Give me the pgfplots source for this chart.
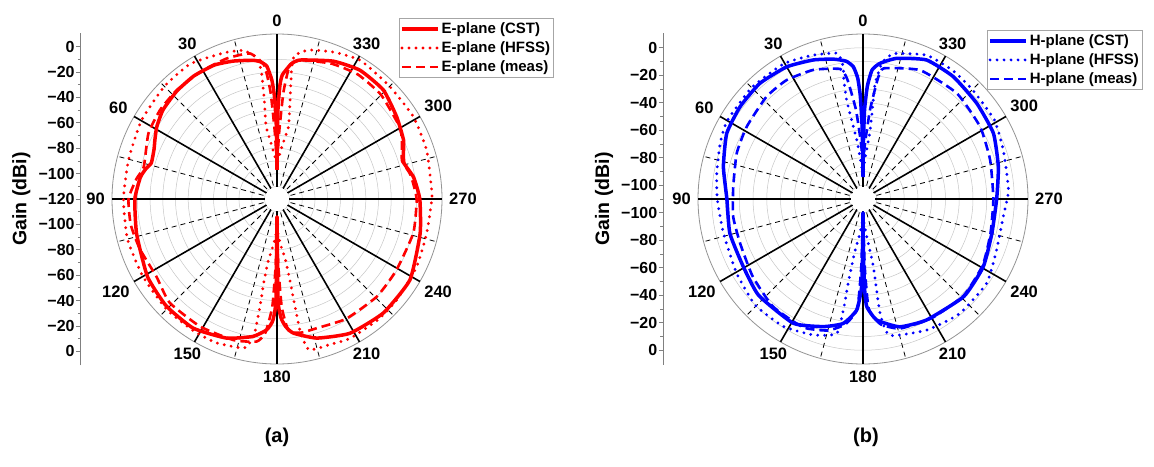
\documentclass[border=0pt]{standalone}
\usepackage{pgfplots}
\pgfplotsset{compat=1.18}
\usepackage{pgfplotstable}
\usepackage{fontspec}
\setmainfont{Liberation Sans}

% ---------- E-plane data (angle from top, counter-clockwise; gain dBi)
\pgfplotstableread{
a g
0 -97
0.6 -60
1.5 -38
2.5 -26
4.4 -15
7 -11
10 -9
17.6 -6
25 -3.5
34 -3
43 -4
52 -6
59 -9.5
64 -13
68 -15.5
74 -17
77 -14
81 -11
90 -8
104 -6
121 -1
134 1.3
147 1.3
160 -3.4
170 -10
175.5 -16.6
178 -24
179.4 -40
180 -106
180.6 -40
182 -26
184 -19
187 -13.5
196 -6
208.5 0.4
223 2.8
238.7 2.6
256.5 -4
270 -7.5
279 -11
285.7 -16
290 -14
295 -10
304.5 -5.6
315.7 0
327.2 0.7
337.8 -2.7
350.6 -9
354 -13
357.5 -22
358.5 -30
359.4 -50
360 -97
}\ecst

\pgfplotstableread{
a g
0 -92
3 -86
5.5 -78
8.5 -62
7.3 -41
7 -20
8 -8
12.7 0
20 2.5
32.7 6.5
45 5.5
60 3.4
75 1
90 1
105 2
120 2
135 3
148 3
157 3
165 1
168.5 -1
170.5 -13
171 -35
171 -55
172 -71
176 -85
180 -95
184 -85
188 -71
189 -55
189.5 -35
190 -13
192 1.5
200 2
207.6 4
220 4
230 3.4
244 2.3
257 1
270 2
274.6 2
288 4
301 5.5
315 5.5
329 7.5
339 4
348 0
353 -6
353.6 -16
352.5 -41
351 -62
354.5 -78
357 -86
360 -92
}\ehfss

\pgfplotstableread{
a g
0 -92
2 -65
3.5 -35
5.5 -14
10.5 -3.4
19.7 -2.4
31 -3
42.6 -3.4
52.7 -4.2
63 -6.3
76.4 -12
82 -8
90 -3
100 -3
110 -5
122.8 -7
134 -2.4
149 -2.7
163 -3.7
171.9 -6.6
175 -14
177.5 -35
179 -70
180 -100
181 -70
182.5 -35
185 -16
190 -13
197 -13.5
210 -11
225.6 -10
239 -10.5
256 -9.3
270 -10
280 -13
287 -17
293 -13
300 -8
315 -4
327 -3
338 -5
350 -9
354.5 -14
356.5 -35
358 -65
360 -92
}\emeas

% ---------- H-plane data
\pgfplotstableread{
a g
0 -94
0.6 -60
1.5 -35
2.5 -22
4.2 -13.5
7 -9
12 -6
19.7 -2.6
30 1
41.7 2.7
53 1.8
64.3 0
77 -5.8
90 -11
104.5 -10
119.5 -10
132.7 -6.7
150.7 -6.4
162.7 -12.8
171 -18.4
176.7 -29
179 -45
179.6 -70
180 -100
180.4 -70
181 -45
182 -31.7
186.4 -21.5
196 -13.3
207.8 -10.6
226 -8
240.6 -9.6
255 -13
270 -12.8
283.4 -8.8
296.7 -3.8
310 -1.9
323.6 0.6
335.4 1.2
346.5 -4.8
352.9 -10.6
356 -16
357.8 -28
359 -45
359.6 -70
360 -94
}\hcst

\pgfplotstableread{
a g
0 -92
3 -84
6 -67
9.4 -37
9 -20
8.5 -12.8
10 -2.4
20 1
30.4 4
45 4.5
60 4
68.7 1.5
80 -2
90 -4
103.8 -5.5
120.5 -3.4
134.6 0
148 -0.7
160 -4.8
169 -10.4
170 -30
170 -47.7
171 -70
175 -85
180 -95
185 -85
188.7 -60
188.5 -26
191 -9
206 -4
220 -1
235.7 -1.2
249 -6
263 -7.2
273.5 -4
289 -2
301 1.5
315 2.5
325 4
336 4.4
348 -1.9
352 -10
354 -25.6
354 -45
354.2 -62
357 -80
360 -92
}\hhfss

\pgfplotstableread{
a g
0 -85
2 -70
4.5 -45
7.5 -22
10 -14
21 -9.4
32.7 -7.2
43.3 -7.7
58 -10.4
70 -12.3
84.6 -15.2
97.8 -14.7
110 -15
125 -12
140 -8
155 -7
165 -11
172 -18
177 -30
178.5 -60
180 -95
181.5 -60
183 -30
188 -18
196 -12
210 -10
226 -8.5
241 -10.5
255 -14
270 -15.2
287 -13.3
301.7 -9.9
318.4 -7.2
336 -7.5
351 -13.8
353 -22
355.5 -45
358 -70
360 -85
}\hmeas

\pgfplotsset{
  polarbase/.style={
    anchor=origin, clip=false,
    axis x line=none, axis y line=left,
    y axis line style={-, gray, line width=0.8pt},
    tick align=outside,
    major tick length=4pt, minor tick length=2.5pt,
    tick style={gray, line width=0.8pt},
    yticklabel style={font=\bfseries\fontsize{16}{16}\selectfont, inner sep=1.5pt},
    ylabel={Gain (dBi)},
    ylabel shift=3pt,
    ylabel style={font=\bfseries\fontsize{19.5}{19.5}\selectfont},
    legend cell align=left,
    legend image code/.code={\draw[#1] (0pt,0pt) -- (36pt,0pt);},
  },
  legbox/.style={
    anchor=north west, draw=gray!70, line width=0.6pt, fill=white,
    inner xsep=1pt, inner ysep=2.5pt, row sep=2.6pt,
    font=\bfseries\fontsize{15}{17}\selectfont,
  },
  sm/.style={smooth, tension=0.3},
}

\begin{document}
\begin{tikzpicture}[x=1pt,y=1pt]
\path[use as bounding box] (0,0) rectangle (1154,-466);

% ---------- grids
\foreach \cx/\step in {277/12.69, 863/13.75}{
\begin{scope}[shift={(\cx pt,-199pt)}]
  \foreach \r in {1,...,11}
    \draw[gray!45, line width=0.5pt] (0,0) circle[radius=\r*\step pt];
  \draw[gray!85, line width=0.8pt] (0,0) circle[radius=165pt];
  \foreach \a in {15,45,...,345}
    \draw[black, line width=0.8pt, dash pattern=on 5pt off 4pt] ({\a+90}:14pt) -- ({\a+90}:165pt);
  \foreach \a in {0,30,...,330}
    \draw[black, line width=1.6pt] ({\a+90}:12pt) -- ({\a+90}:165pt);
  \fill[white] (0,0) circle[radius=12pt];
  \foreach \a in {0,30,...,330}{
    \pgfmathtruncatemacro\anc{mod(\a+270,360)}
    \node[anchor=\anc, inner sep=2pt, font=\bfseries\fontsize{16.5}{16.5}\selectfont] at ({\a+90}:170pt) {\a};
  }
\end{scope}
}

% ---------- (a) E-plane
\begin{axis}[polarbase,
  at={(277pt,-199pt)},
  x=1.2692pt, y=1.2692pt,
  xmin=-155, xmax=135, ymin=-131, ymax=131,
  ytick={-120,-100,...,120},
  yticklabels={0,−20,−40,−60,−80,−100,−120,−100,−80,−60,−40,−20,0},
  minor ytick={-110,-90,...,110},
  legend style={legbox, at={(0.8657,1.0441)}},
]
\addplot[red, sm, line width=3.5pt, line join=round, mark=none]
  table[x expr={-(\thisrow{g}+120)*sin(\thisrow{a})}, y expr={(\thisrow{g}+120)*cos(\thisrow{a})}] {\ecst};
\addlegendentry{E-plane (CST)}
\addplot[red, sm, line width=3.2pt, line cap=round, dash pattern=on 0pt off 7pt, mark=none]
  table[x expr={-(\thisrow{g}+120)*sin(\thisrow{a})}, y expr={(\thisrow{g}+120)*cos(\thisrow{a})}] {\ehfss};
\addlegendentry{E-plane (HFSS)}
\addplot[red, sm, line width=2.6pt, dash pattern=on 9pt off 5pt, mark=none]
  table[x expr={-(\thisrow{g}+120)*sin(\thisrow{a})}, y expr={(\thisrow{g}+120)*cos(\thisrow{a})}] {\emeas};
\addlegendentry{E-plane (meas)}
\end{axis}

% ---------- (b) H-plane
\begin{axis}[polarbase,
  at={(863pt,-199pt)},
  x=1.375pt, y=1.375pt,
  xmin=-145.5, xmax=120, ymin=-120.5, ymax=120.5,
  ytick={-110,-90,...,110},
  yticklabels={0,−20,−40,−60,−80,−100,−100,−80,−60,−40,−20,0},
  minor ytick={-100,-80,...,100},
  legend style={legbox, at={(0.8877,1.010)}},
]
\addplot[blue, sm, line width=3.5pt, line join=round, mark=none]
  table[x expr={-(\thisrow{g}+110)*sin(\thisrow{a})}, y expr={(\thisrow{g}+110)*cos(\thisrow{a})}] {\hcst};
\addlegendentry{H-plane (CST)}
\addplot[blue, sm, line width=3.2pt, line cap=round, dash pattern=on 0pt off 7pt, mark=none]
  table[x expr={-(\thisrow{g}+110)*sin(\thisrow{a})}, y expr={(\thisrow{g}+110)*cos(\thisrow{a})}] {\hhfss};
\addlegendentry{H-plane (HFSS)}
\addplot[blue, sm, line width=2.6pt, dash pattern=on 9pt off 5pt, mark=none]
  table[x expr={-(\thisrow{g}+110)*sin(\thisrow{a})}, y expr={(\thisrow{g}+110)*cos(\thisrow{a})}] {\hmeas};
\addlegendentry{H-plane (meas)}
\end{axis}

\node[font=\bfseries\fontsize{20}{20}\selectfont] at (277pt,-437pt) {(a)};
\node[font=\bfseries\fontsize{20}{20}\selectfont] at (866pt,-437pt) {(b)};
\end{tikzpicture}
\end{document}
